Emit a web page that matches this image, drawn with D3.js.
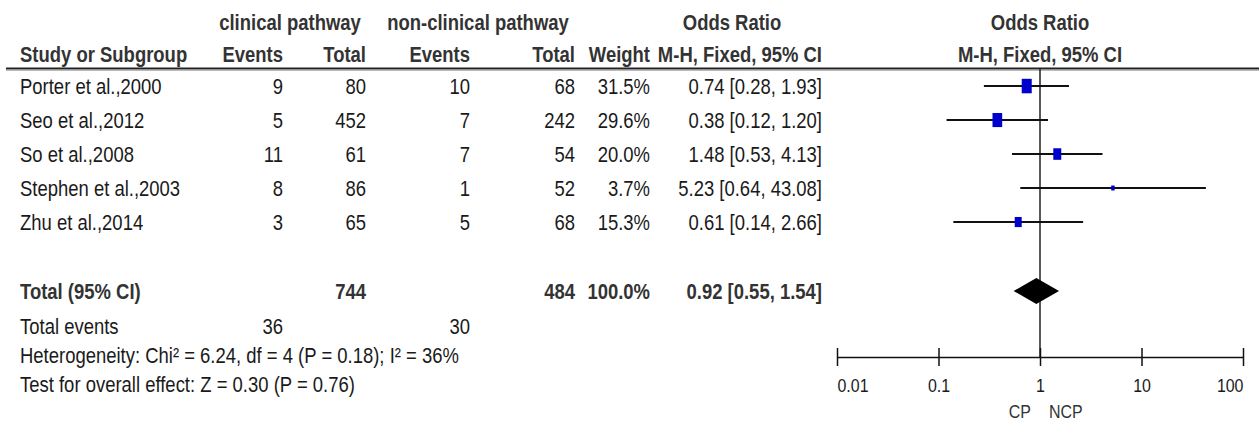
<!DOCTYPE html>
<html>
<head>
<meta charset="utf-8">
<script src="https://cdn.jsdelivr.net/npm/d3@7"></script>
<style>
  body { margin: 0; background: #fff; }
  text { font-family: "Liberation Sans", Arial, sans-serif; fill: #1a1a1a; }
</style>
</head>
<body>
<div id="canvas"></div>
<script>
// Canvas size.
const WIDTH = 1259;
const HEIGHT = 424;

// The data, one entry per study.
const studies = ["Porter et al.,2000", "Seo et al.,2012", "So et al.,2008", "Stephen et al.,2003", "Zhu et al.,2014"];
const cpEvents = [9, 5, 11, 8, 3];
const cpTotal = [80, 452, 61, 86, 65];
const ncpEvents = [10, 7, 7, 1, 5];
const ncpTotal = [68, 242, 54, 52, 68];
const weights = [31.5, 29.6, 20.0, 3.7, 15.3];
const oddsRatio = [0.74, 0.38, 1.48, 5.23, 0.61];
const ciLow = [0.28, 0.12, 0.53, 0.64, 0.14];
const ciHigh = [1.93, 1.20, 4.13, 43.08, 2.66];

// Pooled result: OR, lower, upper.
const totalOR = [0.92, 0.55, 1.54];
const totals = [744, 484];
const totalEvents = [36, 30];
const axisTicks = [0.01, 0.1, 1, 10, 100];

// Text is squeezed to look like the narrow font of the original.
const FS = 22;
const SQUEEZE = 0.84;

const svg = d3.select("#canvas")
    .append("svg")
    .attr("width", WIDTH)
    .attr("height", HEIGHT);

// Scales.
const x = d3.scaleLog().domain([0.01, 100]).range([837, 1243]);
const y = d3.scalePoint().domain(studies).range([86, 222]);
const boxW = d3.scaleSqrt().domain([0, 31.5]).range([0, 10]);

// helper for text
function label(tx, ty, str, anchor, bold, size) {
    return svg.append("g")
        .attr("transform", `translate(${tx},${ty}) scale(${SQUEEZE},1)`)
        .append("text")
        .attr("dy", "0.35em")
        .attr("text-anchor", anchor || "start")
        .style("font-size", (size || FS) + "px")
        .style("font-weight", bold ? "bold" : "normal")
        .style("fill", bold ? "#333" : "#1a1a1a")
        .text(str);
}

// Header.
label(290, 22, "clinical pathway", "middle", true);
label(478, 22, "non-clinical pathway", "middle", true);
label(732, 22, "Odds Ratio", "middle", true);
label(1040, 22, "Odds Ratio", "middle", true);
label(20, 54, "Study or Subgroup", "start", true);
label(283, 54, "Events", "end", true);
label(366, 54, "Total", "end", true);
label(470, 54, "Events", "end", true);
label(575, 54, "Total", "end", true);
label(650, 54, "Weight", "end", true);
label(822, 54, "M-H, Fixed, 95% CI", "end", true);
label(1040, 54, "M-H, Fixed, 95% CI", "middle", true);

svg.append("line")
    .attr("x1", 6).attr("x2", WIDTH)
    .attr("y1", 68.5).attr("y2", 68.5)
    .attr("stroke", "#222").attr("stroke-width", 2);
svg.append("line")
    .attr("x1", 6).attr("x2", WIDTH)
    .attr("y1", 70.5).attr("y2", 70.5)
    .attr("stroke", "#bbb").attr("stroke-width", 1);

// Study rows.
const fmt2 = d3.format(".2f");
studies.forEach((s, i) => {
    const yy = y(s);
    label(20, yy, s);
    label(283, yy, cpEvents[i], "end");
    label(366, yy, cpTotal[i], "end");
    label(470, yy, ncpEvents[i], "end");
    label(575, yy, ncpTotal[i], "end");
    label(650, yy, d3.format(".1f")(weights[i]) + "%", "end");
    label(822, yy, `${fmt2(oddsRatio[i])} [${fmt2(ciLow[i])}, ${fmt2(ciHigh[i])}]`, "end");
});

// Line of no effect.
svg.append("line")
    .attr("x1", x(1)).attr("x2", x(1))
    .attr("y1", 69).attr("y2", 357)
    .attr("stroke", "#222").attr("stroke-width", 1.5);

// CI lines.
svg.append("g")
    .selectAll("line")
    .data(studies)
    .enter()
    .append("line")
    .attr("x1", (d, i) => x(ciLow[i]))
    .attr("x2", (d, i) => x(ciHigh[i]))
    .attr("y1", d => y(d))
    .attr("y2", d => y(d))
    .attr("stroke", "#111")
    .attr("stroke-width", 2);

// Weight boxes.
svg.append("g")
    .selectAll("rect")
    .data(studies)
    .enter()
    .append("rect")
    .attr("x", (d, i) => x(oddsRatio[i]) - boxW(weights[i]) / 2)
    .attr("y", (d, i) => y(d) - boxW(weights[i]) * 0.72)
    .attr("width", (d, i) => boxW(weights[i]))
    .attr("height", (d, i) => boxW(weights[i]) * 1.45)
    .attr("fill", "#0000cc");

// Total row.
const yTot = 291;
label(20, yTot, "Total (95% CI)", "start", true);
label(366, yTot, totals[0], "end", true);
label(575, yTot, totals[1], "end", true);
label(650, yTot, "100.0%", "end", true);
label(822, yTot, `${fmt2(totalOR[0])} [${fmt2(totalOR[1])}, ${fmt2(totalOR[2])}]`, "end", true);

svg.append("path")
    .attr("d", `M${x(totalOR[1])},${yTot} L${x(totalOR[0])},${yTot - 13} L${x(totalOR[2])},${yTot} L${x(totalOR[0])},${yTot + 13} Z`)
    .attr("fill", "#000");

label(20, 326, "Total events");
label(283, 326, totalEvents[0], "end");
label(470, 326, totalEvents[1], "end");
label(20, 355, "Heterogeneity: Chi\u00b2 = 6.24, df = 4 (P = 0.18); I\u00b2 = 36%");
label(20, 384, "Test for overall effect: Z = 0.30 (P = 0.76)");

// Axis.
const xAxis = d3.axisBottom(x)
    .tickValues(axisTicks)
    .tickFormat(d => String(d))
    .tickSizeInner(9)
    .tickSizeOuter(0)
    .tickPadding(13);

const ax = svg.append("g")
    .attr("transform", "translate(0, 357)")
    .call(xAxis);
ax.select(".domain").attr("stroke", "#111").attr("stroke-width", 1.5);
ax.selectAll(".tick line").attr("y1", -9).attr("stroke", "#111").attr("stroke-width", 1.5);
ax.selectAll(".tick text")
    .style("font-size", "19px")
    .style("font-family", "'Liberation Sans', Arial, sans-serif")
    .attr("fill", "#1a1a1a")
    .attr("transform", `scale(${SQUEEZE},1)`)
    .attr("text-anchor", (d, i) => i === 0 ? "start" : (i === axisTicks.length - 1 ? "end" : "middle"));

// Direction labels under the axis.
label(x(1) - 9, 411, "CP", "end", false, 19).style("fill", "#333");
label(x(1) + 9, 411, "NCP", "start", false, 19).style("fill", "#333");
</script>
</body>
</html>
